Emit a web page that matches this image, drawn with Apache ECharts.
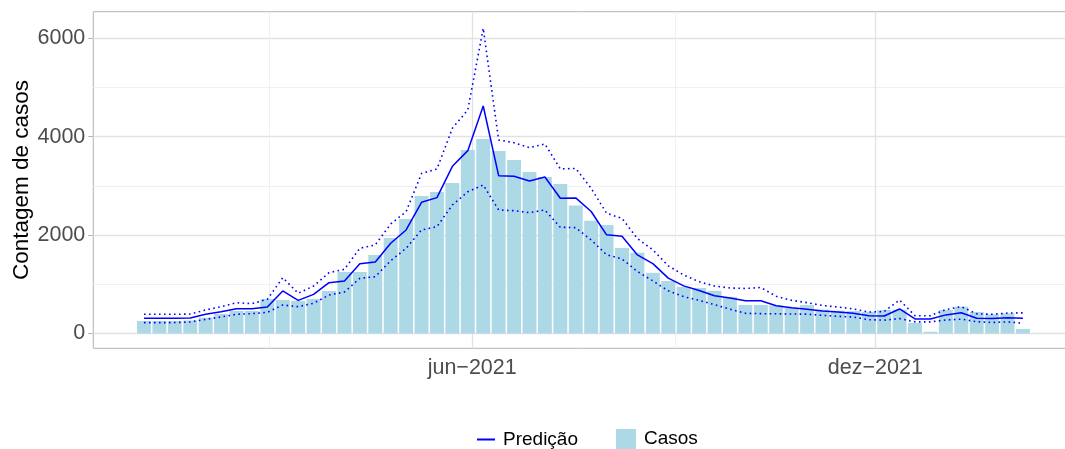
<!DOCTYPE html>
<html>
<head>
<meta charset="utf-8">
<script src="https://cdn.jsdelivr.net/npm/echarts@6/dist/echarts.min.js"></script>
<style>
html,body{margin:0;padding:0;background:#fff;}
#chart{width:1065px;height:449px;}
</style>
</head>
<body>
<div id="chart"></div>
<script>
// semanas (domingo de inicio), uma barra por semana
var firstWeek = [2021, 0, 3];
var casos = [254, 254, 254, 265, 321, 396, 457, 457, 701, 681, 660, 701, 864, 1250, 1250, 1596, 1941, 2327, 2795, 2876,
    3059, 3730, 3953, 3709, 3526, 3282, 3181, 3039, 2600, 2290, 2205, 1740, 1640, 1233, 1067, 948, 925, 867, 745, 579,
    579, 570, 520, 579, 485, 464, 455, 440, 478, 485, 215, 35, 478, 545, 437, 390, 410, 91];
var predicao = [309, 309, 310, 316, 390, 443, 505, 505, 539, 864, 674, 796, 1033, 1067, 1419, 1453, 1833, 2104, 2667, 2761,
    3398, 3716, 4624, 3208, 3194, 3100, 3181, 2748, 2755, 2480, 2005, 1975, 1596, 1420, 1125, 968, 874, 768, 720, 667,
    667, 565, 525, 491, 457, 437, 410, 362, 356, 498, 295, 295, 378, 420, 309, 305, 318, 312];
var limSup = [390, 390, 390, 395, 478, 545, 626, 606, 695, 1134, 817, 965, 1236, 1305, 1732, 1799, 2226, 2476, 3252, 3344,
    4171, 4543, 6203, 3933, 3878, 3777, 3852, 3344, 3355, 2950, 2443, 2341, 1930, 1700, 1375, 1189, 1053, 965, 925, 915,
    935, 755, 674, 627, 569, 538, 500, 436, 446, 681, 362, 362, 485, 545, 400, 390, 415, 420];
var limInf = [220, 220, 222, 234, 288, 335, 390, 403, 430, 579, 545, 614, 782, 843, 1122, 1154, 1480, 1732, 2104, 2171,
    2612, 2882, 3018, 2510, 2496, 2455, 2510, 2158, 2151, 1900, 1600, 1515, 1260, 1070, 867, 748, 674, 586, 495, 410,
    403, 400, 396, 393, 369, 349, 335, 281, 271, 302, 237, 237, 274, 291, 240, 224, 237, 207];

// eixos
var xRange = [[2020, 11, 11], [2022, 1, 26]];
var xTickDates = [[2021, 5, 1], [2021, 11, 1]];
var xTickLabels = ['jun\u22122021', 'dez\u22122021'];
var xMinorDates = [[2021, 2, 1], [2021, 8, 1]];
var yRange = [-301, 6540];
var yTicks = [0, 2000, 4000, 6000];
var yMinor = [1000, 3000, 5000];

function ts(d) { return new Date(d[0], d[1], d[2]).getTime(); }

var weeks = [];
for (var i = 0; i < casos.length; i++) {
    weeks.push(new Date(firstWeek[0], firstWeek[1], firstWeek[2] + 7 * i).getTime());
}
function pairs(vals) {
    return vals.map(function (v, i) { return [weeks[i], v]; });
}

var xTickTs = xTickDates.map(ts);

// linhas de grade (atras das barras)
var majorStyle = {color: '#e2e2e2', width: 1.3, type: 'solid'};
var minorStyle = {color: '#ececec', width: 0.8, type: 'solid'};
var gridLines = [];
yTicks.forEach(function (v) { gridLines.push({yAxis: v, lineStyle: majorStyle}); });
yMinor.forEach(function (v) { gridLines.push({yAxis: v, lineStyle: minorStyle}); });
xTickTs.forEach(function (v) { gridLines.push({xAxis: v, lineStyle: majorStyle}); });
xMinorDates.forEach(function (d) { gridLines.push({xAxis: ts(d), lineStyle: minorStyle}); });

var font = 'Liberation Sans';
var chart = echarts.init(document.getElementById('chart'));
var option = {
    animation: false,
    textStyle: {fontFamily: font},
    grid: {
        left: 93.3, right: -2, top: 11.7, bottom: 100.7,
        containLabel: false, outerBoundsMode: 'none',
        show: true, borderColor: '#b3b3b3', borderWidth: 1, backgroundColor: '#fff'
    },
    legend: [
        {
            data: [{name: 'Predição', icon: 'rect'}],
            left: 477, top: 430, padding: 0,
            itemWidth: 18, itemHeight: 2,
            textStyle: {fontSize: 19, color: '#000', fontFamily: font, padding: [0, 0, 0, 3]},
            selectedMode: false
        },
        {
            data: [{name: 'Casos', icon: 'rect'}],
            left: 616, top: 429, padding: 0,
            itemWidth: 20, itemHeight: 20,
            textStyle: {fontSize: 19, color: '#000', fontFamily: font, padding: [0, 0, 0, 3]},
            selectedMode: false
        }
    ],
    xAxis: {
        type: 'value',
        min: ts(xRange[0]), max: ts(xRange[1]),
        axisLine: {show: false},
        splitLine: {show: false},
        axisTick: {show: true, customValues: xTickTs, length: 5, lineStyle: {color: '#b3b3b3', width: 1}},
        axisLabel: {
            customValues: xTickTs,
            fontSize: 21.5, color: '#4d4d4d', margin: 9, fontFamily: font,
            formatter: function (val) {
                var k = xTickTs.indexOf(val);
                return k >= 0 ? xTickLabels[k] : '';
            }
        }
    },
    yAxis: {
        type: 'value',
        min: yRange[0], max: yRange[1],
        name: 'Contagem de casos',
        nameLocation: 'middle',
        nameGap: 60,
        nameMoveOverlap: false,
        nameTextStyle: {fontSize: 22.5, color: '#000', fontFamily: font},
        axisLine: {show: false},
        splitLine: {show: false},
        axisTick: {show: true, customValues: yTicks, length: 5, lineStyle: {color: '#b3b3b3', width: 1}},
        axisLabel: {
            customValues: yTicks, fontSize: 21.5, color: '#4d4d4d', margin: 8, fontFamily: font,
            formatter: function (v) { return String(v); }
        }
    },
    series: [
        {
            name: 'Casos',
            type: 'bar',
            data: pairs(casos),
            barWidth: 13.9,
            itemStyle: {color: '#add8e6'},
            z: 2,
            markLine: {
                silent: true, symbol: 'none', z: 1,
                label: {show: false},
                emphasis: {disabled: true},
                data: gridLines
            }
        },
        {
            name: 'Limite superior',
            type: 'line',
            data: pairs(limSup),
            symbol: 'none',
            lineStyle: {color: '#0000ff', width: 1.6, type: [1.6, 3.4]},
            itemStyle: {color: '#0000ff'},
            z: 3
        },
        {
            name: 'Limite inferior',
            type: 'line',
            data: pairs(limInf),
            symbol: 'none',
            lineStyle: {color: '#0000ff', width: 1.6, type: [1.6, 3.4]},
            itemStyle: {color: '#0000ff'},
            z: 3
        },
        {
            name: 'Predição',
            type: 'line',
            data: pairs(predicao),
            symbol: 'none',
            lineStyle: {color: '#0000ff', width: 1.5},
            itemStyle: {color: '#0000ff'},
            z: 4
        }
    ]
};
chart.setOption(option);
</script>
</body>
</html>
